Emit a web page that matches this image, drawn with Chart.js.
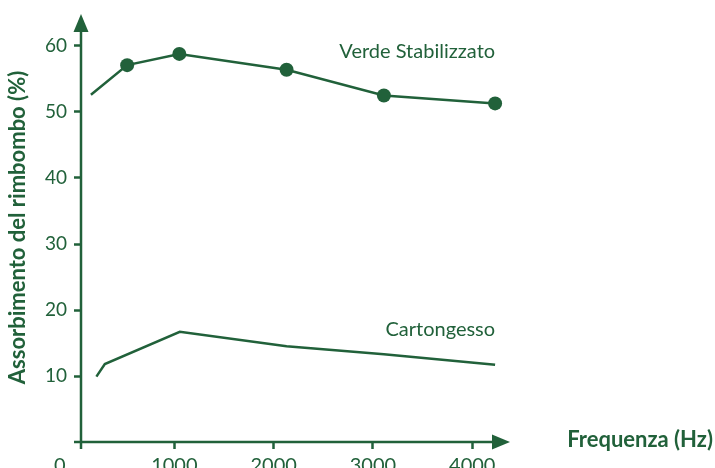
<!DOCTYPE html>
<html lang="it">
<head>
<meta charset="UTF-8">
<title>Assorbimento del rimbombo</title>
<script src="https://cdn.jsdelivr.net/npm/chart.js"></script>
<style>
  html, body { margin: 0; padding: 0; background: #fff; }
  #wrap { width: 715px; height: 468px; }
</style>
</head>
<body>
<div id="wrap"><canvas id="chart"></canvas></div>
<script>
// data
const freqVerde = [160, 525, 1050, 2130, 3110, 4230];
const verde = [52.6, 57.1, 58.8, 56.4, 52.5, 51.3];
const freqCarton = [215, 300, 1055, 2130, 3110, 4230];
const cartongesso = [9.9, 11.8, 16.7, 14.5, 13.3, 11.7];
const xTicks = [0, 1000, 2000, 3000, 4000];
const yTicks = [10, 20, 30, 40, 50, 60];
const seriesNames = ['Verde Stabilizzato', 'Cartongesso'];
const nameAnchors = [58.2, 16.1]; // baseline value of each series name

const green = '#21613a';
const font = 'Lato';

Chart.defaults.font.family = font;
Chart.defaults.color = green;

// axis lines with arrows, series names and x title
const axesPlugin = {
    id: 'axesPlugin',
    afterDraw(chart) {
        const { ctx, chartArea: { left, right, top, bottom } } = chart;
        const xs = chart.scales.x, ys = chart.scales.y;
        ctx.save();
        ctx.strokeStyle = green;
        ctx.fillStyle = green;
        ctx.lineWidth = 2.5;

        // y axis
        ctx.beginPath();
        ctx.moveTo(left, bottom + 7);
        ctx.lineTo(left, top + 16);
        ctx.stroke();
        ctx.beginPath();
        ctx.moveTo(left, top + 1);
        ctx.lineTo(left - 7.5, top + 19);
        ctx.lineTo(left + 7.5, top + 19);
        ctx.closePath();
        ctx.fill();

        // x axis
        ctx.beginPath();
        ctx.moveTo(left - 7, bottom);
        ctx.lineTo(right - 16, bottom);
        ctx.stroke();
        ctx.beginPath();
        ctx.moveTo(right, bottom);
        ctx.lineTo(right - 18, bottom - 7.5);
        ctx.lineTo(right - 18, bottom + 7.5);
        ctx.closePath();
        ctx.fill();

        // series names
        ctx.font = '20px ' + font;
        ctx.textAlign = 'right';
        ctx.textBaseline = 'alphabetic';
        const xEnd = xs.getPixelForValue(freqVerde[freqVerde.length - 1]);
        seriesNames.forEach((name, i) => {
            ctx.fillText(name, xEnd, ys.getPixelForValue(nameAnchors[i]));
        });

        // x title
        ctx.font = 'bold 22px ' + font;
        ctx.textAlign = 'right';
        ctx.fillText('Frequenza (Hz)', 713, 447);
        ctx.restore();
    }
};

new Chart(document.getElementById('chart'), {
    type: 'line',
    data: {
        datasets: [{
            label: seriesNames[0],
            data: freqVerde.map((f, i) => ({ x: f, y: verde[i] })),
            borderColor: green,
            backgroundColor: green,
            borderWidth: 2.5,
            pointRadius: verde.map((v, i) => i === 0 ? 0 : 7),
            pointBackgroundColor: green,
            pointBorderWidth: 0,
            tension: 0
        }, {
            label: seriesNames[1],
            data: freqCarton.map((f, i) => ({ x: f, y: cartongesso[i] })),
            borderColor: green,
            borderWidth: 2.5,
            pointRadius: 0,
            tension: 0
        }]
    },
    options: {
        responsive: true,
        maintainAspectRatio: false,
        animation: false,
        layout: { padding: { top: 13, right: 205, left: 0, bottom: 0 } },
        plugins: {
            legend: { display: false },
            tooltip: { enabled: false }
        },
        scales: {
            x: {
                type: 'linear',
                min: 60,
                max: 4380,
                afterBuildTicks: s => { s.ticks = xTicks.map(v => ({ value: v })); },
                afterFit: s => { s.height = 26; s.paddingLeft = 0; s.paddingRight = 0; },
                border: { display: false },
                grid: {
                    drawOnChartArea: false,
                    drawTicks: true,
                    tickLength: 7,
                    tickWidth: 2.5,
                    tickColor: c => (c.tick && c.tick.value === 0) ? 'rgba(0,0,0,0)' : green
                },
                ticks: {
                    autoSkip: false,
                    maxRotation: 0,
                    padding: 5,
                    font: { size: 20 },
                    color: green,
                    callback: v => v === 0 ? '0      ' : String(v)
                }
            },
            y: {
                min: 0,
                max: 65,
                afterBuildTicks: s => { s.ticks = yTicks.map(v => ({ value: v })); },
                afterFit: s => { s.width = 81; s.paddingTop = 0; s.paddingBottom = 0; },
                border: { display: false },
                grid: {
                    drawOnChartArea: false,
                    drawTicks: true,
                    tickLength: 7,
                    tickWidth: 2.5,
                    tickColor: green
                },
                ticks: {
                    padding: 7,
                    font: { size: 19 },
                    color: green
                },
                title: {
                    display: true,
                    text: 'Assorbimento del rimbombo (%)',
                    color: green,
                    font: { size: 22, weight: 'bold' },
                    padding: { top: 5, bottom: 0 }
                }
            }
        }
    },
    plugins: [axesPlugin]
});
</script>
</body>
</html>
